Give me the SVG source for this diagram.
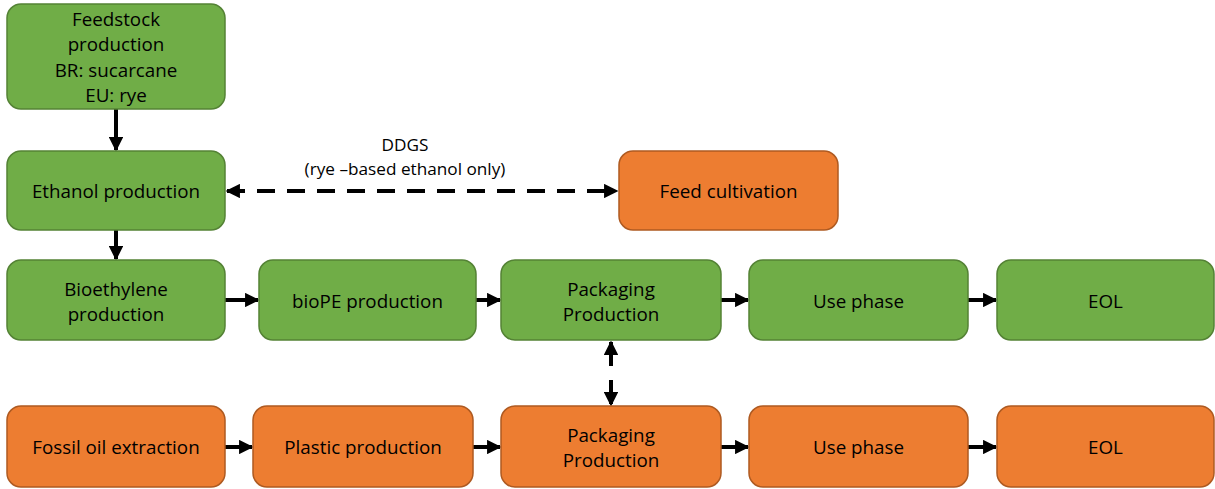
<svg xmlns="http://www.w3.org/2000/svg" width="1215" height="489" viewBox="0 0 1215 489">
<style>
.g{fill:#70AD47;stroke:#548235;stroke-width:1.5}
.o{fill:#ED7D31;stroke:#AE5A21;stroke-width:1.5}
text{font-family:"Open Sans","Liberation Sans",sans-serif;font-size:18.8px;fill:#000;text-anchor:middle}
text.l{font-size:17.2px}
.c{stroke:#000;stroke-width:4;fill:none}
.d{stroke-dasharray:18 12}
</style>
<defs>
<marker id="ah" viewBox="0 0 10 10" refX="9" refY="5" markerWidth="3.6" markerHeight="3.6" orient="auto-start-reverse" markerUnits="strokeWidth">
<path d="M0,0 L10,5 L0,10 Z" fill="#000"/>
</marker>
</defs>
<rect width="1215" height="489" fill="#fff"/>
<g id="connectors">
<line class="c" x1="116" y1="109" x2="116" y2="150" marker-end="url(#ah)"/>
<line class="c" x1="116" y1="230" x2="116" y2="259" marker-end="url(#ah)"/>
<line class="c d" x1="227" y1="191" x2="617" y2="191" marker-start="url(#ah)" marker-end="url(#ah)"/>
<line class="c" x1="225" y1="300" x2="258" y2="300" marker-end="url(#ah)"/>
<line class="c" x1="476" y1="300" x2="500" y2="300" marker-end="url(#ah)"/>
<line class="c" x1="721" y1="300" x2="748" y2="300" marker-end="url(#ah)"/>
<line class="c" x1="968" y1="300" x2="996" y2="300" marker-end="url(#ah)"/>
<line class="c" x1="225" y1="447" x2="252" y2="447" marker-end="url(#ah)"/>
<line class="c" x1="473" y1="447" x2="500" y2="447" marker-end="url(#ah)"/>
<line class="c" x1="721" y1="447" x2="748" y2="447" marker-end="url(#ah)"/>
<line class="c" x1="968" y1="447" x2="996" y2="447" marker-end="url(#ah)"/>
<line class="c" x1="611" y1="342" x2="611" y2="405" stroke-dasharray="24 14" marker-start="url(#ah)" marker-end="url(#ah)"/>
<text class="l" x="405" y="151">DDGS</text>
<text class="l" x="405" y="175">(rye –based ethanol only)</text>
</g>
<g id="feedstock"><rect class="g" x="7" y="4" width="218" height="105" rx="14"/>
<text x="116" y="25.5">Feedstock</text><text x="116" y="51">production</text><text x="116" y="76.5">BR: sucarcane</text><text x="116" y="102">EU: rye</text></g>
<g id="ethanol"><rect class="g" x="7" y="151" width="218" height="79" rx="14"/><text x="116" y="197.5">Ethanol production</text></g>
<g id="feed"><rect class="o" x="619" y="151" width="219" height="79" rx="14"/><text x="728.5" y="197.5">Feed cultivation</text></g>
<g id="bioethylene"><rect class="g" x="7" y="260" width="218" height="80" rx="14"/><text x="116" y="295.5">Bioethylene</text><text x="116" y="321">production</text></g>
<g id="biope"><rect class="g" x="259" y="260" width="217" height="80" rx="14"/><text x="367.5" y="307.5">bioPE production</text></g>
<g id="pack1"><rect class="g" x="501" y="260" width="220" height="80" rx="14"/><text x="611" y="295.5">Packaging</text><text x="611" y="321">Production</text></g>
<g id="use1"><rect class="g" x="749" y="260" width="219" height="80" rx="14"/><text x="858.5" y="307.5">Use phase</text></g>
<g id="eol1"><rect class="g" x="997" y="260" width="217" height="80" rx="14"/><text x="1105.5" y="307.5">EOL</text></g>
<g id="fossil"><rect class="o" x="7" y="406" width="218" height="81" rx="14"/><text x="116" y="453.5">Fossil oil extraction</text></g>
<g id="plastic"><rect class="o" x="253" y="406" width="220" height="81" rx="14"/><text x="363" y="453.5">Plastic production</text></g>
<g id="pack2"><rect class="o" x="501" y="406" width="220" height="81" rx="14"/><text x="611" y="441.5">Packaging</text><text x="611" y="467">Production</text></g>
<g id="use2"><rect class="o" x="749" y="406" width="219" height="81" rx="14"/><text x="858.5" y="453.5">Use phase</text></g>
<g id="eol2"><rect class="o" x="997" y="406" width="217" height="81" rx="14"/><text x="1105.5" y="453.5">EOL</text></g>
</svg>
